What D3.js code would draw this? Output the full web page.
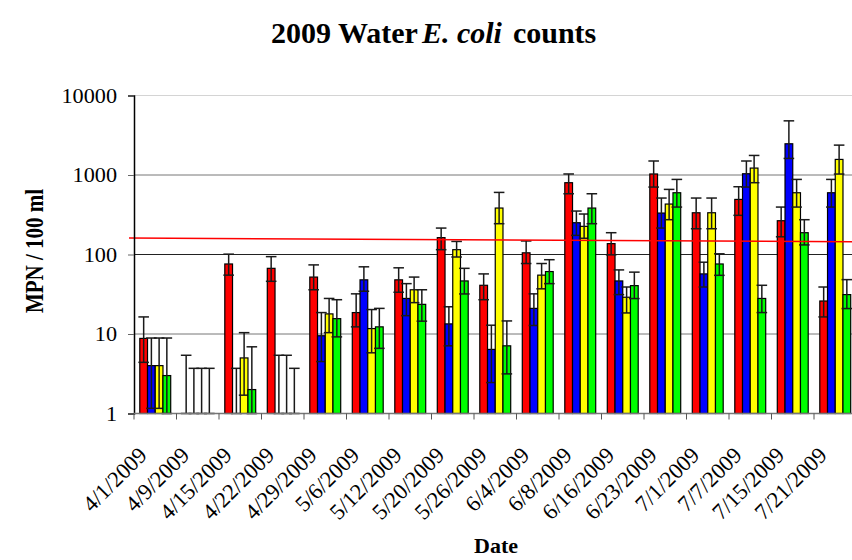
<!DOCTYPE html>
<html>
<head>
<meta charset="utf-8">
<script src="https://cdn.jsdelivr.net/npm/d3@7"></script>
<style>
  body { margin: 0; background: #fff; }
  svg { display: block; }
  text { font-family: "Liberation Serif", "Times New Roman", serif; fill: #000; }
</style>
</head>
<body>
<div id="chart"></div>
<script>
// Sample dates (one group of bars per date)
var dates = ["4/1/2009", "4/9/2009", "4/15/2009", "4/22/2009", "4/29/2009", "5/6/2009",
             "5/12/2009", "5/20/2009", "5/26/2009", "6/4/2009", "6/8/2009", "6/16/2009",
             "6/23/2009", "7/1/2009", "7/7/2009", "7/15/2009", "7/21/2009"];

// MPN / 100 ml per site, with upper and lower error limits
var redVals  = [8.8, 1, 76, 67, 52, 18.6, 48, 163, 41, 105, 800, 137, 1030, 335, 493, 266, 26];
var redHi    = [16.4, 5.4, 101, 94, 74, 32, 68, 215, 57, 148, 1030, 188, 1500, 513, 712, 395, 39];
var redLo    = [4.4, 1, 55, 46, 36, 12.3, 33.5, 115, 27, 77, 581, 99, 705, 211, 311, 167, 16.4];

var blueVals = [4.0, 1, 1, 1, 9.5, 48, 28, 13.4, 6.4, 21, 251, 46.5, 332, 57, 1037, 2470, 598];
var blueHi   = [8.9, 3.7, 3.7, 5.4, 18.6, 70, 43, 22, 12.9, 32, 352, 64, 513, 80, 1500, 4800, 880];
var blueLo   = [1.16, 1, 1, 1, 4.5, 34.5, 17, 7.1, 2.45, 12.8, 174, 31.3, 215, 39, 705, 1616, 395];

var yellowVals = [4.0, 1, 5.0, 1, 17.9, 11.7, 36, 115, 384, 55, 226, 29, 431, 335, 1222, 598, 1570];
var yellowHi   = [8.9, 3.7, 10.4, 5.4, 28, 20.3, 52, 146, 604, 77, 323, 39, 659, 513, 1762, 880, 2376];
var yellowLo   = [1.16, 1, 1.7, 1, 10.4, 5.8, 24.8, 93, 244, 37, 160, 18.4, 274, 211, 800, 395, 1028];

var greenVals = [3.0, 1, 2.0, 1, 15.6, 12.3, 23.6, 46.5, 7.1, 61, 384, 40.6, 598, 76, 28, 188, 31.3];
var greenHi   = [8.9, 3.7, 6.9, 3.7, 27, 21, 36, 67, 14.6, 86, 581, 60, 880, 102, 41, 274, 48.3];
var greenLo   = [1, 1, 1, 1, 9.2, 6.6, 14.5, 31.9, 3.15, 43, 244, 27.9, 395, 54.7, 18.6, 132, 20.9];

var seriesColors = ["#ff0000", "#0000ff", "#ffff00", "#00ff00"];

// y ticks and the hand drawn limit line (value at left end, value at right end)
var yTicks = [1, 10, 100, 1000, 10000];
var limitLine = [161, 145];

var width = 852, height = 560;
var plotLeft = 134, plotRight = 856.5, plotTop = 95.5, plotBottom = 413.5;

var series = [
    { vals: redVals, hi: redHi, lo: redLo },
    { vals: blueVals, hi: blueHi, lo: blueLo },
    { vals: yellowVals, hi: yellowHi, lo: yellowLo },
    { vals: greenVals, hi: greenHi, lo: greenLo }
];

var svg = d3.select("#chart").append("svg")
    .attr("width", width)
    .attr("height", height);

var x = d3.scaleBand()
    .domain(dates)
    .range([plotLeft, plotRight]);

// Excel style clusters: gap width 150%
var barW = x.bandwidth() / (series.length + 1.5);
var xs = d3.scaleBand()
    .domain(d3.range(series.length))
    .range([barW * 0.75, barW * 0.75 + barW * series.length]);

var y = d3.scaleLog()
    .domain([1, 10000])
    .range([plotBottom, plotTop]);

// gridlines
svg.append("g").selectAll("line")
    .data(yTicks.slice(1))
    .enter().append("line")
    .attr("x1", plotLeft).attr("x2", width)
    .attr("y1", function(d) { return y(d); })
    .attr("y2", function(d) { return y(d); })
    .style("stroke", function(d) { return d === 10000 ? "#d4d4d4" : (d === 100 ? "#222" : "#777"); })
    .style("stroke-width", 1);

// title
var title = svg.append("text")
    .attr("x", 271).attr("y", 43)
    .style("font-size", "30px")
    .style("font-weight", "bold");
title.append("tspan").text("2009 Water");
title.append("tspan").attr("dx", 4).style("font-style", "italic").text("E. coli");
title.append("tspan").attr("dx", 11).text("counts");

// bars
var groups = svg.append("g").selectAll("g")
    .data(series)
    .enter().append("g")
    .attr("fill", function(d, i) { return seriesColors[i]; });

groups.each(function(s, si) {
    var g = d3.select(this);
    var rows = dates.map(function(dt, i) {
        return { date: dt, v: s.vals[i], hi: s.hi[i], lo: s.lo[i] };
    });

    g.selectAll("rect")
        .data(rows.filter(function(d) { return d.v > 1; }))
        .enter().append("rect")
        .attr("x", function(d) { return x(d.date) + xs(si); })
        .attr("y", function(d) { return y(d.v); })
        .attr("width", xs.bandwidth())
        .attr("height", function(d) { return y(1) - y(d.v); })
        .style("stroke", "#000")
        .style("stroke-width", 1.2);

    // error bars
    var err = g.selectAll(".err")
        .data(rows)
        .enter().append("g")
        .attr("class", "err")
        .attr("transform", function(d) {
            return "translate(" + (x(d.date) + xs(si) + xs.bandwidth() / 2) + ",0)";
        })
        .style("stroke", "#1a1a1a")
        .style("stroke-width", 1.5);

    err.append("line")
        .attr("x1", 0).attr("x2", 0)
        .attr("y1", function(d) { return y(d.hi); })
        .attr("y2", function(d) { return y(d.lo); });
    err.append("line")
        .attr("x1", -5.3).attr("x2", 5.3)
        .attr("y1", function(d) { return y(d.hi); })
        .attr("y2", function(d) { return y(d.hi); });
    err.append("line")
        .attr("x1", -5.3).attr("x2", 5.3)
        .attr("y1", function(d) { return y(d.lo); })
        .attr("y2", function(d) { return y(d.lo); });
});

// limit line
svg.append("line")
    .attr("x1", 129).attr("x2", width)
    .attr("y1", y(limitLine[0]))
    .attr("y2", y(limitLine[1]))
    .style("stroke", "#ff0000")
    .style("stroke-width", 1.5);

// y axis
var yAxis = d3.axisLeft(y)
    .tickValues(yTicks)
    .tickFormat(d3.format("d"))
    .tickSize(6)
    .tickPadding(11);

var yg = svg.append("g")
    .attr("transform", "translate(" + plotLeft + ",0)")
    .call(yAxis);
yg.select(".domain").style("stroke", "#000").style("stroke-width", 1.5);
yg.selectAll(".tick line").style("stroke", "#666");
yg.selectAll(".tick text")
    .style("font-family", "Liberation Serif, serif")
    .style("font-size", "21px")
    .attr("textLength", function(d) { return String(d).length * 11.1; })
    .attr("lengthAdjust", "spacingAndGlyphs");

// x axis: ticks between categories
svg.append("line")
    .attr("x1", plotLeft).attr("x2", width)
    .attr("y1", plotBottom).attr("y2", plotBottom)
    .style("stroke", "#777").style("stroke-width", 1.5);

svg.append("g").selectAll("line")
    .data(dates)
    .enter().append("line")
    .attr("x1", function(d) { return x(d); })
    .attr("x2", function(d) { return x(d); })
    .attr("y1", plotBottom).attr("y2", plotBottom + 6)
    .style("stroke", "#555");

svg.append("g").selectAll("text")
    .data(dates)
    .enter().append("text")
    .attr("text-anchor", "end")
    .attr("transform", function(d) {
        return "translate(" + (x(d) + x.bandwidth() / 2 - 7) + "," + (plotBottom + 43) + ") rotate(-45)";
    })
    .style("font-size", "22.5px")
    .text(function(d) { return d; });

// axis titles
svg.append("text")
    .attr("transform", "translate(34,251) scale(1.2,1) rotate(-90)")
    .attr("text-anchor", "middle")
    .attr("dy", "0.35em")
    .style("font-size", "21px")
    .style("font-weight", "bold")
    .text("MPN / 100 ml");

svg.append("text")
    .attr("x", 496).attr("y", 553)
    .attr("text-anchor", "middle")
    .style("font-size", "22px")
    .style("font-weight", "bold")
    .text("Date");
</script>
</body>
</html>
